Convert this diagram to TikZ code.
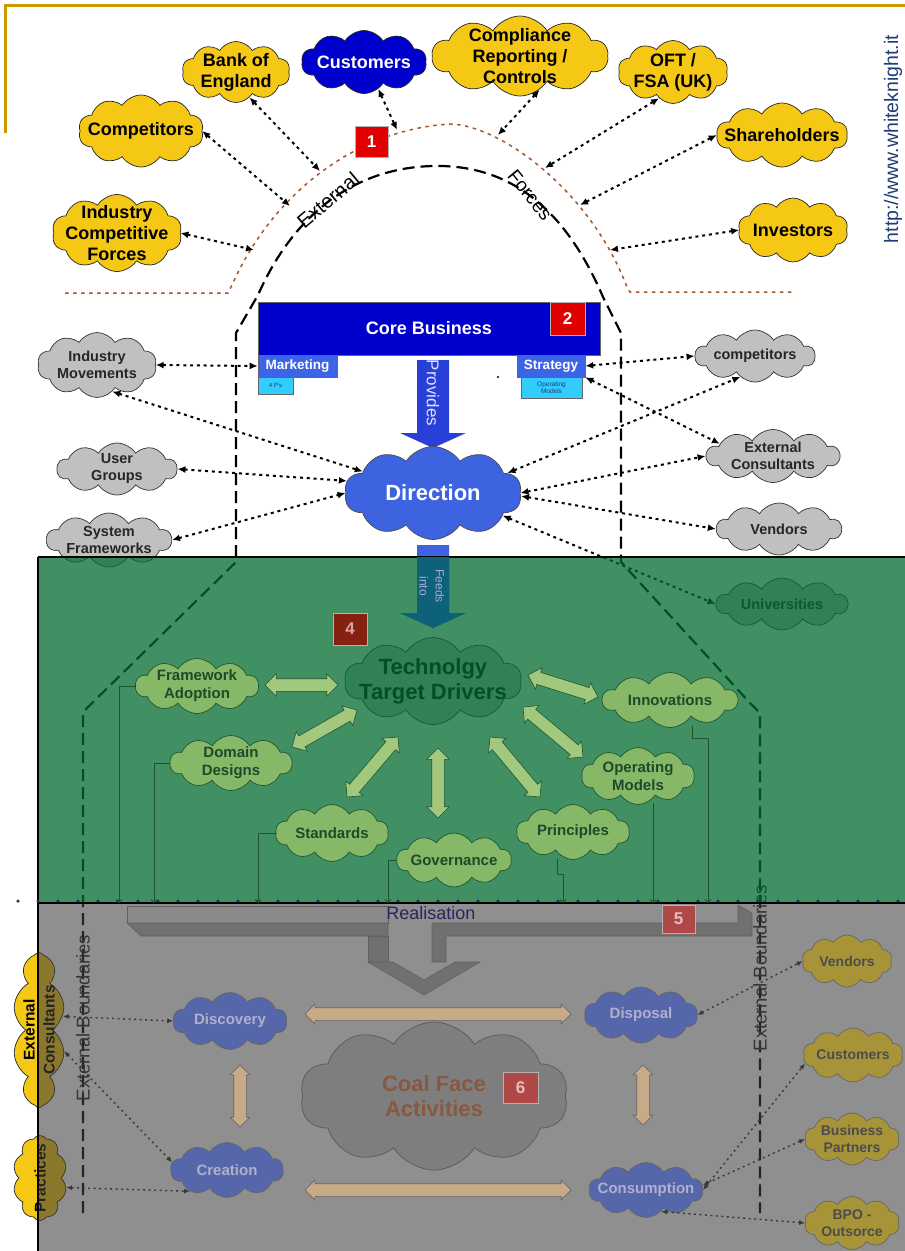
\documentclass[tikz,border=0pt]{standalone}
\usepackage{fontspec}
\setmainfont{Liberation Sans}
\usetikzlibrary{shapes.symbols,shapes.arrows,arrows.meta,calc}
\newcommand{\fsz}[2]{\fontsize{#1}{#2}\selectfont}
\newcommand{\blockarr}[4]{\path let \p1=(#3), \p2=(#4), \n1={veclen(\x2-\x1,\y2-\y1)} in (\p1) -- (\p2) node[#1, midway, sloped, minimum height=\n1] (#2) {};}
\definecolor{gold}{HTML}{CC9900}
\definecolor{cyel}{HTML}{F5C816}
\definecolor{cblu}{HTML}{0000CC}
\definecolor{rblu}{HTML}{3D63E0}
\definecolor{mblu}{HTML}{3C64E6}
\definecolor{pblu}{HTML}{2840D8}
\definecolor{cyanb}{HTML}{33CCFF}
\definecolor{cgray}{HTML}{C0C0C0}
\definecolor{cred}{HTML}{E00000}
\definecolor{brn}{HTML}{A5562A}
\definecolor{urlc}{HTML}{1F3D73}
\definecolor{ovg}{RGB}{0,108,48}
\definecolor{ovk}{HTML}{3F3F3F}
\definecolor{lgreen}{HTML}{86B868}
\definecolor{dgreen}{HTML}{1E5530}
\definecolor{tgreen}{HTML}{1F4A2A}
\definecolor{harr}{HTML}{A2C87E}
\definecolor{dblu}{HTML}{5566AA}
\definecolor{tanc}{HTML}{C8A988}
\definecolor{olive}{HTML}{A89438}
\definecolor{dred}{HTML}{B04848}
\definecolor{coal}{HTML}{7E7E7E}
\definecolor{coalt}{HTML}{8A5840}
\begin{document}
\begin{tikzpicture}[x=1pt,y=-1pt,
  cbase/.style={cloud, cloud puffs=10, cloud puff arc=115, cloud ignores aspect, inner sep=0pt, line width=0.7pt},
  ycl/.style={cbase, fill=cyel, draw=black!85},
  ytx/.style={align=center, font=\fsz{18}{21}\bfseries, text=black, inner sep=0pt},
  gcl/.style={cbase, fill=cgray, draw=black!80},
  gtx/.style={align=center, font=\fsz{14.5}{17}\bfseries, text=black!85, inner sep=0pt},
  lgcl/.style={cbase, fill=lgreen, draw=dgreen},
  lgtx/.style={align=center, font=\fsz{15}{18}\bfseries, text=tgreen, inner sep=0pt},
  bcl/.style={cbase, fill=dblu, draw=black!60},
  btx/.style={align=center, font=\fsz{15}{18}\bfseries, text=white!82!blue!60!gray, inner sep=0pt},
  ocl/.style={cbase, fill=olive, draw=black!60},
  otx/.style={align=center, font=\fsz{14}{17}\bfseries, text=black!70, inner sep=0pt},
  redbox/.style={rectangle, fill=cred, draw=black!30, text=white, font=\fsz{17}{17}\bfseries, inner sep=0pt},
  bx/.style={rectangle, draw=black!60, line width=0.6pt, inner sep=0pt, align=center},
  dotarr/.style={line width=2pt, dash pattern=on 3pt off 3.8pt, {Latex[length=8pt,width=7pt]}-{Latex[length=8pt,width=7pt]}},
  dotarrg/.style={line width=1.4pt, draw=black!78, dash pattern=on 2pt off 3.5pt, {Latex[length=6pt,width=5pt]}-{Latex[length=6pt,width=5pt]}},
  arch/.style={line width=2.2pt, dash pattern=on 12pt off 6pt},
  brnarc/.style={draw=brn, line width=1.5pt, dash pattern=on 3.5pt off 4.5pt},
  harrow/.style={double arrow, double arrow head extend=5pt, inner sep=6pt, fill=harr, draw=dgreen, line width=0.6pt},
  tarrow/.style={double arrow, double arrow head extend=3.5pt, inner sep=6pt, fill=tanc, draw=black!62, line width=0.6pt},
  thin/.style={draw=dgreen, line width=0.8pt, -{Straight Barb[length=3pt,width=6pt]}}
]
\useasboundingbox (0,0) rectangle (905,1251);
\fill[white] (0,0) rectangle (905,1251);

% frame and url
\draw[gold, line width=3.5pt] (5.5,133) -- (5.5,5.5) -- (905,5.5);
\node[rotate=90, font=\fsz{19.5}{20}, text=urlc] (url) at (893,139) {http://www.whiteknight.it};

% brown external forces boundary
\draw[brnarc] (65,293) -- (228,293) -- (233,283) .. controls (270,200) and (350,130) .. (450,124) .. controls (500,125) and (590,190) .. (627,287) -- (630,292) -- (793,292);

% black arch / external boundaries
\draw[arch] (83,1213) -- (83,713) -- (87,708) -- (236,562) -- (236,333) -- (258,295) .. controls (300,200) and (370,165) .. (440,166) .. controls (520,167) and (570,220) .. (603,297) -- (621,333) -- (621,562) -- (750,703) -- (760,713) -- (760,1213);
\node[rotate=40, font=\fsz{20}{20}] (ext) at (328,200) {External};
\node[rotate=-51, font=\fsz{19}{19}] (forc) at (530,195) {Forces};

% top clouds
\node[ycl, minimum width=108, minimum height=61, label={[ytx]center:Bank of\\England}] (boe) at (236,72) {};
\node[cbase, fill=cblu, draw=black!85, minimum width=125, minimum height=63, label={[ytx, text=white]center:Customers}] (cust) at (364,62) {};
\node[ycl, minimum width=176, minimum height=80, label={[ytx]center:Compliance\\Reporting /\\Controls}] (compl) at (520,56) {};
\node[ycl, minimum width=110, minimum height=63, label={[ytx]center:OFT /\\FSA (UK)}] (oft) at (673,72) {};
\node[ycl, minimum width=125, minimum height=72, label={[ytx]center:Competitors}] (comp) at (141,131) {};
\node[ycl, minimum width=131, minimum height=64, label={[ytx]center:Shareholders}] (share) at (782,135) {};
\node[ycl, minimum width=130, minimum height=77, label={[ytx]center:Industry\\Competitive\\Forces}] (icf) at (117,233) {};
\node[ycl, minimum width=110, minimum height=64, label={[ytx]center:Investors}] (inv) at (793,230) {};
\node[redbox, minimum width=33, minimum height=31] (r1) at (371.5,141.5) {1};

\coordinate (a1) at (320,171);
\coordinate (a2) at (290,206);
\coordinate (a3) at (254,250);
\coordinate (a4) at (397,130);
\coordinate (a5) at (498,135);
\coordinate (a6) at (545,168);
\coordinate (a7) at (580,205);
\coordinate (a8) at (610,250);
\draw[dotarr] (boe.-62) -- (a1);
\draw[dotarr] (comp.east) -- (a2);
\draw[dotarr] (icf.east) -- (a3);
\draw[dotarr] (cust.-62) -- (a4);
\draw[dotarr] (compl.-60) -- (a5);
\draw[dotarr] (oft.-118) -- (a6);
\draw[dotarr] (share.west) -- (a7);
\draw[dotarr] (inv.west) -- (a8);

% core business
\node[bx, fill=cblu, minimum width=342, minimum height=53, text=white, font=\fsz{18}{18}\bfseries] (core) at (429,328.5) {Core Business};
\node[redbox, minimum width=35, minimum height=33] (r2) at (567.5,318.5) {2};
\node[bx, fill=mblu, minimum width=79, minimum height=22, text=white, font=\fsz{13.5}{14}\bfseries] (mkt) at (297.5,366) {Marketing};
\node[bx, fill=cyanb, minimum width=35, minimum height=17, text=urlc, font=\fsz{6}{6}] (fourp) at (275.5,385.5) {4 P's};
\node[bx, fill=mblu, minimum width=68, minimum height=22, text=white, font=\fsz{13.5}{14}\bfseries] (strat) at (551,366) {Strategy};
\node[bx, fill=cyanb, minimum width=61, minimum height=21, text=urlc, font=\fsz{6.5}{7.5}] (opm) at (551.5,387.5) {Operating\\Models};
\fill (498,377) circle (1.2);

% provides arrow
\fill[pblu] (417,360) -- (449,360) -- (449,433) -- (466,433) -- (433,448) -- (400,433) -- (417,433) -- cycle;
\node[rotate=-90, font=\fsz{17}{17}, text=white!88!blue] (prov) at (433,393) {Provides};
% feeds arrow (bright part)
\fill[rblu] (417,545) -- (449,545) -- (449,613) -- (466,613) -- (433,628) -- (400,613) -- (417,613) -- cycle;

% direction
\node[cbase, fill=rblu, draw=black!70, minimum width=177, minimum height=93, label={[font=\fsz{22}{22}\bfseries, text=white]center:Direction}] (dir) at (433,493) {};

% gray clouds
\node[gcl, minimum width=119, minimum height=65, label={[gtx]center:Industry\\Movements}] (im) at (97,365) {};
\node[gcl, minimum width=120, minimum height=52, label={[gtx]center:User\\Groups}] (ug) at (117,469) {};
\node[gcl, minimum width=125, minimum height=54, label={[gtx]center:System\\Frameworks}] (sf) at (109,540) {};
\node[gcl, minimum width=120, minimum height=52, label={[gtx]center:competitors}] (cmp2) at (755,356) {};
\node[gcl, minimum width=133, minimum height=53, label={[gtx]center:External\\Consultants}] (ec) at (773,456) {};
\node[gcl, minimum width=125, minimum height=52, label={[gtx]center:Vendors}] (vend) at (779,529) {};
\node[gcl, minimum width=131, minimum height=52, label={[gtx]center:Universities}] (univ) at (782,604) {};

\draw[dotarr] (im.east) -- (mkt.west);
\draw[dotarr] (im.-60) -- (dir.163);
\draw[dotarr] (ug.east) -- (dir.172);
\draw[dotarr] (sf.east) -- (dir.west);
\draw[dotarr] (strat.east) -- (cmp2.west);
\draw[dotarr] (strat.south east) -- (ec.167);
\draw[dotarr] (dir.15) -- (cmp2.-125);
\draw[dotarr] (dir.east) -- (ec.west);
\draw[dotarr] (dir.-2) -- (vend.west);
\draw[dotarr] (dir.-18) -- (univ.west);

% technology target drivers (under the green layer)
\node[cbase, fill=cgray, draw=black!80, minimum width=177, minimum height=87, label={[font=\fsz{22}{25}\bfseries, align=center]center:Technolgy\\Target Drivers}] (ttd) at (433,681) {};

% external boundaries labels
\node[rotate=90, font=\fsz{18.5}{19}, text=black!85] (eb1) at (83,1018) {External Boundaries};
\node[rotate=90, font=\fsz{18.5}{19}, text=black!85] (eb2) at (760,968) {External Boundaries};

% left yellow clouds (partly under gray layer)
\node[ycl, minimum width=52, minimum height=155, label={[ytx, font=\fsz{15.5}{20}\bfseries, rotate=90]center:External\\Consultants}] (ecl) at (39,1030) {};
\node[ycl, minimum width=54, minimum height=85, label={[ytx, font=\fsz{15.5}{20}\bfseries, rotate=90]center:Practices}] (prac) at (40,1178) {};

% translucent layers
\fill[ovg, fill opacity=0.75] (38,557) rectangle (905,903);
\fill[ovk, fill opacity=0.58] (38,903) rectangle (905,1251);
\draw[line width=1.5pt] (38,557) -- (905,557);
\draw[line width=1.5pt] (38,557) -- (38,1251);
\draw[line width=2.5pt] (38,903) -- (905,903);
\draw[draw=urlc!80!black, line width=3.5pt, line cap=round, dash pattern=on 0pt off 20pt] (18,901) -- (905,901);

% feeds arrow inside the green layer
\begin{scope}
\clip (38,557) rectangle (905,903);
\fill[fill=urlc!60!cyan!70!black] (417,545) -- (449,545) -- (449,613) -- (466,613) -- (433,628) -- (400,613) -- (417,613) -- cycle;
\end{scope}
\node[rotate=-90, font=\fsz{12}{16}, text=blue!25!white!70!gray, align=center] (feeds) at (432,586) {Feeds\\into};
\node[redbox, fill=red!45!black!75!brown, text=red!30!white!70!gray, minimum width=34, minimum height=32] (r4) at (350,629) {4};

% green clouds
\node[lgcl, minimum width=123, minimum height=55, label={[lgtx]center:Framework\\Adoption}] (fa) at (197,686) {};
\node[lgcl, minimum width=122, minimum height=55, label={[lgtx]center:Domain\\Designs}] (dd) at (231,763) {};
\node[lgcl, minimum width=113, minimum height=57, label={[lgtx]center:Standards}] (std) at (332,833) {};
\node[lgcl, minimum width=115, minimum height=54, label={[lgtx]center:Governance}] (gov) at (454,860) {};
\node[lgcl, minimum width=113, minimum height=55, label={[lgtx]center:Principles}] (pr) at (573,832) {};
\node[lgcl, minimum width=113, minimum height=57, label={[lgtx]center:Operating\\Models}] (om) at (638,776) {};
\node[lgcl, minimum width=135, minimum height=55, label={[lgtx]center:Innovations}] (inn) at (670,700) {};

\coordinate (h1a) at (265,685); \coordinate (h1b) at (338,685);
\coordinate (h2a) at (292,747); \coordinate (h2b) at (357,710);
\coordinate (h3a) at (347,797); \coordinate (h3b) at (398,737);
\coordinate (h4a) at (438,818); \coordinate (h4b) at (438,748);
\coordinate (h5a) at (540,797); \coordinate (h5b) at (490,737);
\coordinate (h6a) at (583,757); \coordinate (h6b) at (523,707);
\coordinate (h7a) at (598,697); \coordinate (h7b) at (528,675);
\blockarr{harrow}{ha1}{h1a}{h1b}
\blockarr{harrow}{ha2}{h2a}{h2b}
\blockarr{harrow}{ha3}{h3a}{h3b}
\blockarr{harrow}{ha4}{h4a}{h4b}
\blockarr{harrow}{ha5}{h5a}{h5b}
\blockarr{harrow}{ha6}{h6a}{h6b}
\blockarr{harrow}{ha7}{h7a}{h7b}

% thin connectors to realisation
\coordinate (z1) at (119,903);
\coordinate (z2) at (154,903);
\coordinate (z3) at (258,903);
\coordinate (z4) at (388,903);
\coordinate (z5) at (563,903);
\coordinate (z6) at (653,903);
\coordinate (z7) at (708,903);
\draw[thin] (fa.west) -| (z1);
\draw[thin] (dd.west) -| (z2);
\draw[thin] (std.west) -| (z3);
\draw[thin] (gov.west) -| (z4);
\draw[thin] ($(pr.south)+(-16,-1)$) -- ++(0,16) -| (z5);
\draw[thin] ($(om.south)+(15,-2)$) -- (z6);
\draw[thin] ($(inn.south)+(22,-2)$) -- ++(0,13) -| (z7);

% realisation 3D arrow
\filldraw[fill=black!46, draw=black!62, line width=0.6pt] (127,906) -- (388,906) -- (388,923) -- (127,923) -- cycle;
\filldraw[fill=black!56, draw=black!62, line width=0.6pt] (127,923) -- (388,923) -- (388,936) -- (141,936) -- cycle;
\filldraw[fill=black!56, draw=black!62, line width=0.6pt] (368,936) -- (388,936) -- (388,962) -- (368,962) -- cycle;
\filldraw[fill=black!56, draw=black!62, line width=0.6pt] (432,923) -- (738,923) -- (738,905) -- (752,913) -- (752,936) -- (446,936) -- (446,962) -- (432,962) -- cycle;
\filldraw[fill=black!56, draw=black!62, line width=0.6pt] (368,962) -- (424,995) -- (480,962) -- (455,962) -- (424,980) -- (393,962) -- cycle;
\node[font=\fsz{18}{18}, text=blue!30!black!70!gray] (real) at (431,913) {Realisation};
\node[redbox, fill=dred, text=red!20!white!80!gray, minimum width=33, minimum height=28] (r5) at (678.5,919) {5};

% coal face
\node[cbase, fill=coal, draw=black!65, minimum width=268, minimum height=148, label={[font=\fsz{22}{25}\bfseries, text=coalt, align=center]center:Coal Face\\Activities}] (coalf) at (434,1096) {};
\node[redbox, fill=dred, text=red!20!white!80!gray, minimum width=35, minimum height=31] (r6) at (520.5,1087.5) {6};

\coordinate (t1a) at (305,1014); \coordinate (t1b) at (571,1014);
\coordinate (t2a) at (305,1190); \coordinate (t2b) at (571,1190);
\coordinate (t3a) at (240,1065); \coordinate (t3b) at (240,1127);
\coordinate (t4a) at (643,1065); \coordinate (t4b) at (643,1125);
\blockarr{tarrow}{ta1}{t1a}{t1b}
\blockarr{tarrow}{ta2}{t2a}{t2b}
\blockarr{tarrow}{ta3}{t3a}{t3b}
\blockarr{tarrow}{ta4}{t4a}{t4b}

% blue activity clouds
\node[bcl, minimum width=114, minimum height=57, label={[btx]center:Discovery}] (disc) at (230,1021) {};
\node[bcl, minimum width=113, minimum height=55, label={[btx]center:Creation}] (cre) at (227,1170) {};
\node[bcl, minimum width=113, minimum height=56, label={[btx]center:Disposal}] (disp) at (641,1015) {};
\node[bcl, minimum width=114, minimum height=55, label={[btx]center:Consumption}] (cons) at (646,1190) {};

% olive clouds
\node[ocl, minimum width=90, minimum height=52, label={[otx]center:Vendors}] (vend2) at (847,961) {};
\node[ocl, minimum width=100, minimum height=54, label={[otx]center:Customers}] (cust2) at (853,1055) {};
\node[ocl, minimum width=95, minimum height=52, label={[otx]center:Business\\Partners}] (bp) at (852,1139) {};
\node[ocl, minimum width=95, minimum height=53, label={[otx]center:BPO -\\Outsorce}] (bpo) at (852,1223) {};

\draw[dotarrg] (ecl.30) -- (disc.west);
\draw[dotarrg] (ecl.-40) -- (cre.172);
\draw[dotarrg] (prac.-20) -- (cre.-150);
\draw[dotarrg] (disp.east) -- (vend2.west);
\draw[dotarrg] (cons.east) -- (cust2.190);
\draw[dotarrg] (cons.5) -- (bp.west);
\draw[dotarrg] (cons.-55) -- (bpo.west);
\end{tikzpicture}
\end{document}
